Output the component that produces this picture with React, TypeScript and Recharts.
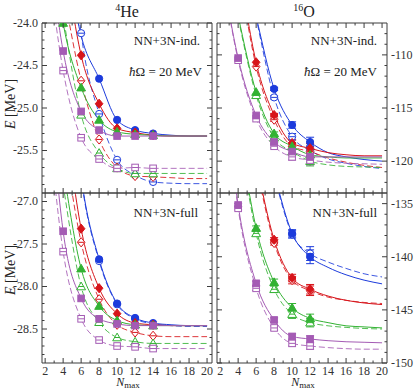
import React from 'react';
import { ComposedChart, Line, Scatter, XAxis, YAxis, ErrorBar } from 'recharts';

const FONT = '"Liberation Serif", "Times New Roman", serif';
const FRAME = '#3c3c3c';
const BLUE = '#1c3bdc';
const RED = '#d7141a';
const GREEN = '#33b233';
const PURPLE = '#a45bb4';

const X_DOMAIN = [1.65, 20.55];
const X_TICKS = [2, 3, 4, 5, 6, 7, 8, 9, 10, 11, 12, 13, 14, 15, 16, 17, 18, 19, 20];

const CURVE_N = [2, 4, 6, 8, 10, 12, 14, 16, 18, 20];
const HE_N = [4, 6, 8, 10, 12, 14];
const O_N = [4, 6, 8, 10, 12];

// ---------- 4He, NN+3N-induced ----------
const heIndBlueFilled = [null, null, -24.655, -25.14, -25.26, -25.3];
const heIndBlueOpen = [null, -24.12, -25.07, -25.61, -25.79, -25.87];
const heIndRedFilled = [null, -24.38, -24.95, -25.24, -25.29, -25.32];
const heIndRedOpen = [null, -24.68, -25.37, -25.7, -25.8, -25.81];
const heIndGreenFilled = [-24.0, -24.76, -25.14, -25.28, -25.31, -25.32];
const heIndGreenOpen = [null, -25.08, -25.53, -25.71, -25.77, -25.77];
const heIndPurpleFilled = [-24.33, -25.04, -25.26, -25.33, -25.33, -25.33];
const heIndPurpleOpen = [-24.56, -25.35, -25.6, -25.71, -25.7, -25.71];

const heIndBlueSolid = [null, -23.0, -24.15, -24.655, -25.14, -25.26, -25.3, -25.32, -25.33, -25.33];
const heIndBlueDashed = [null, -21.8, -24.12, -25.07, -25.61, -25.79, -25.87, -25.885, -25.89, -25.89];
const heIndRedSolid = [null, -23.1, -24.38, -24.95, -25.24, -25.29, -25.32, -25.33, -25.33, -25.33];
const heIndRedDashed = [null, -23.6, -24.68, -25.37, -25.7, -25.8, -25.81, -25.82, -25.83, -25.83];
const heIndGreenSolid = [-22.4, -24.0, -24.76, -25.14, -25.28, -25.31, -25.32, -25.33, -25.33, -25.33];
const heIndGreenDashed = [-22.3, -23.9, -25.08, -25.53, -25.71, -25.77, -25.77, -25.77, -25.77, -25.77];
const heIndPurpleSolid = [-22.7, -24.33, -25.04, -25.26, -25.33, -25.33, -25.33, -25.33, -25.33, -25.33];
const heIndPurpleDashed = [-23.0, -24.56, -25.35, -25.6, -25.71, -25.7, -25.71, -25.71, -25.71, -25.71];

// ---------- 4He, NN+3N-full ----------
const heFullBlueFilled = [null, null, -27.68, -28.2, -28.37, -28.43];
const heFullBlueOpen = [null, null, -27.7, -28.21, -28.38, -28.44];
const heFullRedFilled = [null, -27.32, -28.02, -28.32, -28.43, -28.45];
const heFullRedOpen = [null, -27.48, -28.15, -28.45, -28.54, -28.58];
const heFullGreenFilled = [null, -27.79, -28.23, -28.4, -28.45, -28.46];
const heFullGreenOpen = [null, -28.0, -28.42, -28.6, -28.65, -28.67];
const heFullPurpleFilled = [-27.35, -28.14, -28.38, -28.44, -28.46, -28.46];
const heFullPurpleOpen = [-27.59, -28.38, -28.63, -28.7, -28.71, -28.73];

const heFullBlueSolid = [null, -24.5, -26.7, -27.68, -28.2, -28.37, -28.43, -28.45, -28.46, -28.46];
const heFullBlueDashed = [null, -24.5, -26.72, -27.7, -28.21, -28.38, -28.44, -28.46, -28.47, -28.47];
const heFullRedSolid = [null, -25.8, -27.32, -28.02, -28.32, -28.43, -28.45, -28.46, -28.46, -28.46];
const heFullRedDashed = [null, -26.2, -27.48, -28.15, -28.45, -28.54, -28.58, -28.59, -28.59, -28.59];
const heFullGreenSolid = [null, -26.6, -27.79, -28.23, -28.4, -28.45, -28.46, -28.46, -28.46, -28.46];
const heFullGreenDashed = [null, -26.8, -28.0, -28.42, -28.6, -28.65, -28.67, -28.67, -28.67, -28.67];
const heFullPurpleSolid = [-25.0, -27.35, -28.14, -28.38, -28.44, -28.46, -28.46, -28.46, -28.46, -28.46];
const heFullPurpleDashed = [-25.6, -27.59, -28.38, -28.63, -28.7, -28.71, -28.73, -28.73, -28.73, -28.73];

// ---------- 16O, NN+3N-induced ----------
const oIndBlueFilled = [null, null, -113.2, -116.6, -118.2];
const oIndBlueOpen = [null, null, -114.0, -117.7, -119.0];
const oIndRedFilled = [null, -110.7, -115.66, -118.3, -118.8];
const oIndRedOpen = [null, -111.1, -116.1, -118.6, -119.1];
const oIndGreenFilled = [null, -113.5, -117.4, -118.6, -119.4];
const oIndGreenOpen = [null, -113.8, -117.8, -119.1, -120.0];
const oIndPurpleFilled = [-110.3, -115.7, -118.2, -119.1, -119.6];
const oIndPurpleOpen = [-110.5, -116.0, -118.6, -119.6, -119.9];
const oIndErr = [0, 0, 0.15, 0.3, 0.45];

const oIndBlueSolid = [null, -99, -106.4, -113.2, -116.6, -118.2, -119.2, -119.6, -119.85, -120.0];
const oIndBlueDashed = [null, -98, -106.5, -114.0, -117.7, -119.0, -119.8, -120.2, -120.5, -120.7];
const oIndRedSolid = [null, -101, -110.7, -115.66, -118.3, -118.8, -119.2, -119.4, -119.5, -119.5];
const oIndRedDashed = [null, -101.5, -111.1, -116.1, -118.6, -119.1, -119.7, -120.1, -120.4, -120.6];
const oIndGreenSolid = [null, -106.3, -113.5, -117.4, -118.6, -119.4, -119.6, -119.7, -119.7, -119.7];
const oIndGreenDashed = [null, -106.5, -113.8, -117.8, -119.1, -120.0, -120.35, -120.5, -120.55, -120.6];
const oIndPurpleSolid = [-101, -110.3, -115.7, -118.2, -119.1, -119.6, -119.6, -119.6, -119.6, -119.6];
const oIndPurpleDashed = [-101, -110.5, -116.0, -118.6, -119.6, -119.9, -120.1, -120.2, -120.25, -120.3];

// ---------- 16O, NN+3N-full ----------
const oFullBlueFilled = [null, null, null, -137.8, -140.0];
const oFullBlueOpen = [null, null, null, -137.9, -139.7];
const oFullRedFilled = [null, null, -138.4, -142.0, -143.06];
const oFullRedOpen = [null, null, -138.7, -142.2, -143.2];
const oFullGreenFilled = [null, -137.3, -142.4, -144.8, -145.8];
const oFullGreenOpen = [null, -137.8, -143.06, -145.4, -146.2];
const oFullPurpleFilled = [-135.13, -142.5, -145.95, -147.5, -147.74];
const oFullPurpleOpen = [-135.44, -142.97, -146.7, -148.15, -148.4];
const oFullBlueErr = [0, 0, 0, 0.35, 0.65];
const oFullRedErr = [0, 0, 0.2, 0.35, 0.45];
const oFullGreenErr = [0, 0.2, 0.3, 0.4, 0.4];
const oFullPurpleErr = [0.15, 0.2, 0.2, 0.25, 0.3];

const oFullBlueSolid = [null, null, -125, -132.1, -137.8, -140.0, -141.0, -141.7, -142.2, -142.55];
const oFullBlueDashed = [null, null, -125, -132.3, -137.9, -139.7, -140.5, -141.1, -141.6, -141.9];
const oFullRedSolid = [null, -122, -131, -138.4, -142.0, -143.06, -143.7, -144.1, -144.35, -144.5];
const oFullRedDashed = [null, -122, -131.3, -138.7, -142.2, -143.2, -143.8, -144.1, -144.3, -144.4];
const oFullGreenSolid = [null, -127.5, -137.3, -142.4, -144.8, -145.8, -146.2, -146.5, -146.6, -146.7];
const oFullGreenDashed = [null, -127.8, -137.8, -143.06, -145.4, -146.2, -146.5, -146.65, -146.75, -146.8];
const oFullPurpleSolid = [-120, -135.13, -142.5, -145.95, -147.5, -147.74, -147.9, -148.0, -148.05, -148.1];
const oFullPurpleDashed = [-120, -135.44, -142.97, -146.7, -148.15, -148.4, -148.55, -148.65, -148.7, -148.7];

// ---------- axis ticks ----------
const HE_IND_TICKS = [-24.0, -24.1, -24.2, -24.3, -24.4, -24.5, -24.6, -24.7, -24.8, -24.9, -25.0, -25.1, -25.2, -25.3, -25.4, -25.5, -25.6, -25.7, -25.8, -25.9];
const HE_FULL_TICKS = [-27.0, -27.1, -27.2, -27.3, -27.4, -27.5, -27.6, -27.7, -27.8, -27.9, -28.0, -28.1, -28.2, -28.3, -28.4, -28.5, -28.6, -28.7, -28.8];
const O_IND_TICKS = [-108, -109, -110, -111, -112, -113, -114, -115, -116, -117, -118, -119, -120, -121, -122];
const O_FULL_TICKS = [-135, -136, -137, -138, -139, -140, -141, -142, -143, -144, -145, -146, -147, -148, -149, -150];

type Arr = (number | null)[];
type Series = {
  key: string; color: string; kind: string;
  filled: Arr; open: Arr; solid: Arr; dashed: Arr; err?: number[];
};

const mk = (key: string, color: string, kind: string, filled: Arr, open: Arr, solid: Arr, dashed: Arr, err?: number[]): Series =>
  ({ key, color, kind, filled, open, solid, dashed, err });

const HE_IND: Series[] = [
  mk('b', BLUE, 'circle', heIndBlueFilled, heIndBlueOpen, heIndBlueSolid, heIndBlueDashed),
  mk('r', RED, 'diamond', heIndRedFilled, heIndRedOpen, heIndRedSolid, heIndRedDashed),
  mk('g', GREEN, 'triangle', heIndGreenFilled, heIndGreenOpen, heIndGreenSolid, heIndGreenDashed),
  mk('p', PURPLE, 'square', heIndPurpleFilled, heIndPurpleOpen, heIndPurpleSolid, heIndPurpleDashed),
];
const HE_FULL: Series[] = [
  mk('b', BLUE, 'circle', heFullBlueFilled, heFullBlueOpen, heFullBlueSolid, heFullBlueDashed),
  mk('r', RED, 'diamond', heFullRedFilled, heFullRedOpen, heFullRedSolid, heFullRedDashed),
  mk('g', GREEN, 'triangle', heFullGreenFilled, heFullGreenOpen, heFullGreenSolid, heFullGreenDashed),
  mk('p', PURPLE, 'square', heFullPurpleFilled, heFullPurpleOpen, heFullPurpleSolid, heFullPurpleDashed),
];
const O_IND: Series[] = [
  mk('b', BLUE, 'circle', oIndBlueFilled, oIndBlueOpen, oIndBlueSolid, oIndBlueDashed, oIndErr),
  mk('r', RED, 'diamond', oIndRedFilled, oIndRedOpen, oIndRedSolid, oIndRedDashed, oIndErr),
  mk('g', GREEN, 'triangle', oIndGreenFilled, oIndGreenOpen, oIndGreenSolid, oIndGreenDashed, oIndErr),
  mk('p', PURPLE, 'square', oIndPurpleFilled, oIndPurpleOpen, oIndPurpleSolid, oIndPurpleDashed, oIndErr),
];
const O_FULL: Series[] = [
  mk('b', BLUE, 'circle', oFullBlueFilled, oFullBlueOpen, oFullBlueSolid, oFullBlueDashed, oFullBlueErr),
  mk('r', RED, 'diamond', oFullRedFilled, oFullRedOpen, oFullRedSolid, oFullRedDashed, oFullRedErr),
  mk('g', GREEN, 'triangle', oFullGreenFilled, oFullGreenOpen, oFullGreenSolid, oFullGreenDashed, oFullGreenErr),
  mk('p', PURPLE, 'square', oFullPurpleFilled, oFullPurpleOpen, oFullPurpleSolid, oFullPurpleDashed, oFullPurpleErr),
];

function Marker(props: any) {
  const { cx, cy, kind, color, filled } = props;
  if (cx == null || cy == null || isNaN(cx) || isNaN(cy)) return null;
  const fill = filled ? color : '#ffffff';
  const common = { fill, stroke: color, strokeWidth: 1 };
  let el: any = null;
  if (kind === 'circle') el = <circle cx={cx} cy={cy} r={3.6} {...common} />;
  else if (kind === 'square') el = <rect x={cx - 3.3} y={cy - 3.3} width={6.6} height={6.6} {...common} />;
  else if (kind === 'diamond') el = <polygon points={`${cx},${cy - 4.6} ${cx + 3.8},${cy} ${cx},${cy + 4.6} ${cx - 3.8},${cy}`} {...common} />;
  else el = <polygon points={`${cx},${cy - 4.4} ${cx + 4.4},${cy + 3.3} ${cx - 4.4},${cy + 3.3}`} {...common} />;
  return (
    <g>
      {el}
      {!filled && <line x1={cx - 3} x2={cx + 3} y1={cy} y2={cy} stroke={color} strokeWidth={1} />}
    </g>
  );
}

function makeTick(side: string, labels: boolean, step: number, digits: number) {
  return (p: any) => {
    const v = Number(p.payload.value);
    const r = v / step;
    const major = Math.abs(r - Math.round(r)) < 1e-6;
    const len = major ? 5 : 2.5;
    const M = 4;
    const st = { stroke: FRAME, strokeWidth: 1 };
    const txt = { fontFamily: FONT, fontSize: 12, fill: '#333' };
    let line: any = null;
    let text: any = null;
    const label = v.toFixed(digits);
    if (side === 'left') {
      const ax = p.x + M;
      line = <line x1={ax} x2={ax + len} y1={p.y} y2={p.y} {...st} />;
      if (labels && major) text = <text x={p.x} y={p.y} dy="0.33em" textAnchor="end" {...txt}>{label}</text>;
    } else if (side === 'right') {
      const ax = p.x - M;
      line = <line x1={ax} x2={ax - len} y1={p.y} y2={p.y} {...st} />;
      if (labels && major) text = <text x={p.x} y={p.y} dy="0.33em" textAnchor="start" {...txt}>{label}</text>;
    } else if (side === 'bottom') {
      const ay = p.y - M;
      line = <line x1={p.x} x2={p.x} y1={ay} y2={ay - len} {...st} />;
      if (labels && major) text = <text x={p.x} y={ay + 11.5} textAnchor="middle" {...txt}>{label}</text>;
    } else {
      const ay = p.y + M;
      line = <line x1={p.x} x2={p.x} y1={ay} y2={ay + len} {...st} />;
    }
    return <g>{line}{text}</g>;
  };
}

type PanelProps = {
  plotLeft: number; plotTop: number; yDomain: number[]; yTicks: number[];
  yStep: number; yDigits: number; labelSide: string; showX: boolean; series: Series[]; nList: number[];
};

function Panel({ plotLeft, plotTop, yDomain, yTicks, yStep, yDigits, labelSide, showX, series, nList }: PanelProps) {
  const W = 415, H = 389, PW = 170, PH = 170;
  const YL = 30, YR = 20, XT = 10, XB = 20;
  const margin = { left: plotLeft - YL, top: plotTop - XT, right: W - plotLeft - PW - YR, bottom: H - plotTop - PH - XB };
  const rows = CURVE_N.map((n, i) => {
    const row: any = { n };
    series.forEach((s) => { row[s.key + 'S'] = s.solid[i]; row[s.key + 'D'] = s.dashed[i]; });
    return row;
  });
  const pts = (arr: Arr, err?: number[]) =>
    nList.map((n, i) => ({ n, v: arr[i], e: err ? err[i] : 0 })).filter((d) => d.v != null);
  const axisLine = { stroke: FRAME, strokeWidth: 1 };
  return (
    <div style={{ position: 'absolute', left: 0, top: 0 }}>
      <ComposedChart width={W} height={H} data={rows} margin={margin}>
        <XAxis dataKey="n" type="number" domain={X_DOMAIN} ticks={X_TICKS} interval={0} allowDataOverflow
          height={XB} tickSize={0} tickMargin={4} tickLine={false} axisLine={axisLine}
          tick={makeTick('bottom', showX, 2, 0)} />
        <XAxis xAxisId="top" orientation="top" dataKey="n" type="number" domain={X_DOMAIN} ticks={X_TICKS} interval={0} allowDataOverflow
          height={XT} tickSize={0} tickMargin={4} tickLine={false} axisLine={axisLine}
          tick={makeTick('top', false, 2, 0)} />
        <YAxis type="number" domain={yDomain} ticks={yTicks} interval={0} allowDataOverflow
          width={YL} tickSize={0} tickMargin={4} tickLine={false} axisLine={axisLine}
          tick={makeTick('left', labelSide === 'left', yStep, yDigits)} />
        <YAxis yAxisId="right" orientation="right" type="number" domain={yDomain} ticks={yTicks} interval={0} allowDataOverflow
          width={YR} tickSize={0} tickMargin={4} tickLine={false} axisLine={axisLine}
          tick={makeTick('right', labelSide === 'right', yStep, yDigits)} />
        {series.map((s) => (
          <Line key={s.key + 'D'} dataKey={s.key + 'D'} type="monotone" stroke={s.color} strokeOpacity={0.85}
            strokeWidth={1} strokeDasharray="6 3" dot={false} activeDot={false} isAnimationActive={false} connectNulls />
        ))}
        {series.map((s) => (
          <Line key={s.key + 'S'} dataKey={s.key + 'S'} type="monotone" stroke={s.color}
            strokeWidth={1} dot={false} activeDot={false} isAnimationActive={false} connectNulls />
        ))}
        {series.map((s) => (
          <Scatter key={s.key + 'O'} data={pts(s.open, s.err)} dataKey="v" isAnimationActive={false}
            shape={(p: any) => <Marker cx={p.cx} cy={p.cy} kind={s.kind} color={s.color} filled={false} />}>
            {s.err && <ErrorBar dataKey="e" direction="y" width={4} stroke={s.color} strokeWidth={1} />}
          </Scatter>
        ))}
        {series.map((s) => (
          <Scatter key={s.key + 'F'} data={pts(s.filled, s.err)} dataKey="v" isAnimationActive={false}
            shape={(p: any) => <Marker cx={p.cx} cy={p.cy} kind={s.kind} color={s.color} filled={true} />}>
            {s.err && <ErrorBar dataKey="e" direction="y" width={4} stroke={s.color} strokeWidth={1} />}
          </Scatter>
        ))}
      </ComposedChart>
    </div>
  );
}

function Overlay() {
  const t = { fontFamily: FONT, fill: '#222' };
  return (
    <svg width={415} height={389} style={{ position: 'absolute', left: 0, top: 0, pointerEvents: 'none' }}>
      <text x={127} y={17} textAnchor="middle" fontSize={16} {...t}>
        <tspan fontSize={10} dy={-6}>4</tspan><tspan dy={6}>He</tspan>
      </text>
      <text x={304} y={17} textAnchor="middle" fontSize={16} {...t}>
        <tspan fontSize={10} dy={-6}>16</tspan><tspan dy={6}>O</tspan>
      </text>
      <text x={200} y={45} textAnchor="end" fontSize={13} {...t}>NN+3N-ind.</text>
      <text x={202} y={76} textAnchor="end" fontSize={13} {...t}><tspan fontStyle="italic">ħ</tspan>Ω = 20 MeV</text>
      <text x={377} y={45} textAnchor="end" fontSize={13} {...t}>NN+3N-ind.</text>
      <text x={377} y={76} textAnchor="end" fontSize={13} {...t}><tspan fontStyle="italic">ħ</tspan>Ω = 20 MeV</text>
      <text x={198} y={217} textAnchor="end" fontSize={13} {...t}>NN+3N-full</text>
      <text x={377} y={217} textAnchor="end" fontSize={13} {...t}>NN+3N-full</text>
      <text x={15} y={104} textAnchor="middle" fontSize={14} transform="rotate(-90 15 104)" {...t}>
        <tspan fontStyle="italic">E</tspan>  [MeV]
      </text>
      <text x={15} y={270} textAnchor="middle" fontSize={14} transform="rotate(-90 15 270)" {...t}>
        <tspan fontStyle="italic">E</tspan>  [MeV]
      </text>
      <text x={128} y={386} textAnchor="middle" fontSize={12} {...t}>
        <tspan fontStyle="italic">N</tspan><tspan fontSize={9} dy={2}>max</tspan>
      </text>
      <text x={303} y={386} textAnchor="middle" fontSize={12} {...t}>
        <tspan fontStyle="italic">N</tspan><tspan fontSize={9} dy={2}>max</tspan>
      </text>
    </svg>
  );
}

export default function App() {
  return (
    <div style={{ position: 'absolute', left: 0, top: 0, width: 415, height: 389, background: '#fff' }}>
      <Panel plotLeft={42} plotTop={23} yDomain={[-26, -24]} yTicks={HE_IND_TICKS} yStep={0.5} yDigits={1}
        labelSide="left" showX={false} series={HE_IND} nList={HE_N} />
      <Panel plotLeft={42} plotTop={193} yDomain={[-28.9, -26.9]} yTicks={HE_FULL_TICKS} yStep={0.5} yDigits={1}
        labelSide="left" showX={true} series={HE_FULL} nList={HE_N} />
      <Panel plotLeft={217} plotTop={23} yDomain={[-123, -107]} yTicks={O_IND_TICKS} yStep={5} yDigits={0}
        labelSide="right" showX={false} series={O_IND} nList={O_N} />
      <Panel plotLeft={217} plotTop={193} yDomain={[-150, -134]} yTicks={O_FULL_TICKS} yStep={5} yDigits={0}
        labelSide="right" showX={true} series={O_FULL} nList={O_N} />
      <Overlay />
    </div>
  );
}
